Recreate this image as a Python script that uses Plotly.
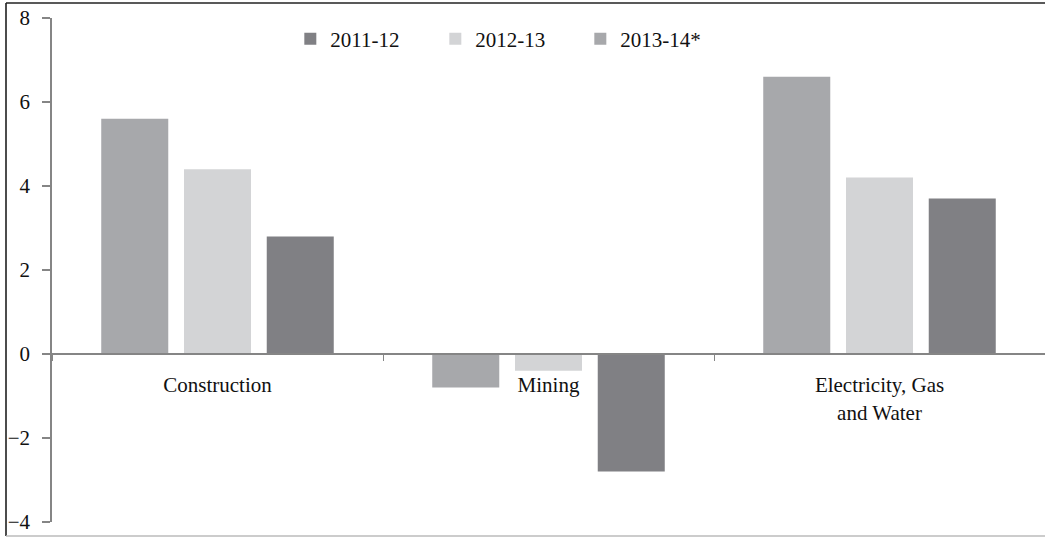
import plotly.graph_objects as go

categories = ["Construction", "Mining", "Electricity, Gas<br>and Water"]
series_names = ["2013-14*", "2012-13", "2011-12"]
values_2013_14 = [5.6, -0.8, 6.6]
values_2012_13 = [4.4, -0.4, 4.2]
values_2011_12 = [2.8, -2.8, 3.7]
colors = ["#a7a8ab", "#d3d4d6", "#808084"]
y_ticks = [-4, -2, 0, 2, 4, 6, 8]

series = [values_2013_14, values_2012_13, values_2011_12]
FONT = "Liberation Serif, Times New Roman, DejaVu Serif, serif"

fig = go.Figure()
for name, vals, col in zip(series_names, series, colors):
    fig.add_trace(go.Bar(x=categories, y=vals, name=name, marker=dict(color=col, line=dict(width=0))))

ymin, ymax = y_ticks[0], y_ticks[-1]
zero_pos = (0 - ymin) / (ymax - ymin)

fig.update_layout(
    width=1045, height=537,
    margin=dict(l=52, r=0, t=18, b=15),
    paper_bgcolor="white", plot_bgcolor="white",
    font=dict(family=FONT, size=21, color="#111111"),
    barmode="group", bargap=0.25, bargroupgap=0.19,
    showlegend=True,
    legend=dict(orientation="h", traceorder="reversed", x=0.24, xanchor="left",
                y=0.958, yanchor="middle", entrywidth=100,
                font=dict(family=FONT, size=21, color="#111111"),
                bgcolor="rgba(0,0,0,0)"),
    xaxis=dict(anchor="free", position=zero_pos, showline=True, linecolor="#858585", linewidth=2,
               ticks="outside", tickson="boundaries", ticklen=6, tickcolor="#858585", tickwidth=1,
               showgrid=False, zeroline=False, ticklabelstandoff=12,
               tickfont=dict(family=FONT, size=21, color="#111111")),
    yaxis=dict(range=[ymin, ymax], tickvals=y_ticks, showline=True, linecolor="#858585", linewidth=1.5,
               ticks="outside", ticklen=8, tickcolor="#858585", tickwidth=1.5, showgrid=False,
               zeroline=False, ticklabelstandoff=8,
               tickfont=dict(family=FONT, size=21, color="#111111")),
    shapes=[
        dict(type="line", xref="paper", yref="paper", x0=(6 - 52) / 993, x1=(6 - 52) / 993,
             y0=(522 - 3) / 504, y1=(522 - 536) / 504, line=dict(color="#111111", width=1.5)),
        dict(type="line", xref="paper", yref="paper", x0=(6 - 52) / 993, x1=1.01,
             y0=(522 - 3) / 504, y1=(522 - 3) / 504, line=dict(color="#222222", width=1.5)),
        dict(type="line", xref="paper", yref="paper", x0=(6 - 52) / 993, x1=1.01,
             y0=(522 - 536) / 504, y1=(522 - 536) / 504, line=dict(color="#bbbbbb", width=1.5)),
    ],
)

fig.write_html("out.html")
